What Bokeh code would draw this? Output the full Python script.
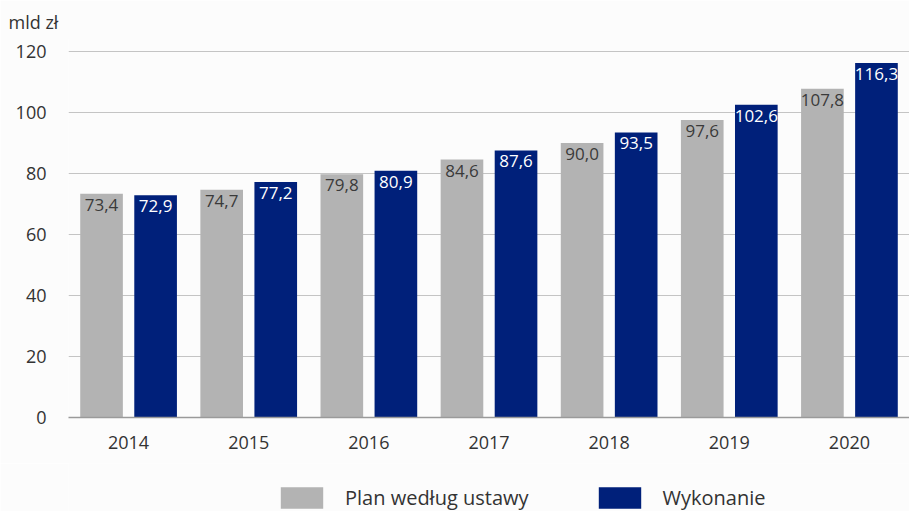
from bokeh.plotting import figure
from bokeh.layouts import column
from bokeh.models import ColumnDataSource, FactorRange, Range1d, Legend, LegendItem, FixedTicker
from bokeh.transform import dodge
from bokeh.core.properties import value
from bokeh.embed import file_html
from bokeh.resources import INLINE

years = ["2014", "2015", "2016", "2017", "2018", "2019", "2020"]
plan = [73.4, 74.7, 79.8, 84.6, 90.0, 97.6, 107.8]
wykonanie = [72.9, 77.2, 80.9, 87.6, 93.5, 102.6, 116.3]
y_ticks = [0, 20, 40, 60, 80, 100, 120]
series_names = ["Plan według ustawy", "Wykonanie"]
unit_label = "mld zł"

def fmt(v):
    return f"{v:.1f}".replace(".", ",")

src = ColumnDataSource(dict(
    years=years, plan=plan, wyk=wykonanie,
    plan_lbl=[fmt(v) for v in plan], wyk_lbl=[fmt(v) for v in wykonanie],
))

FONT = "Open Sans"
GRAY = "#b3b3b3"
NAVY = "#00207a"
BG = "#fcfcfc"

p = figure(width=909, height=463, x_range=FactorRange(*years, range_padding=0.0),
           y_range=Range1d(0, 124.3), output_backend="svg", toolbar_location=None,
           background_fill_color=BG, border_fill_color=BG,
           min_border_left=68, min_border_right=0, min_border_top=38, min_border_bottom=46)
p.outline_line_color = None

p.title.text = unit_label
p.title.text_font = FONT
p.title.text_font_size = "18px"
p.title.text_font_style = "normal"
p.title.text_color = "#333333"
p.title.align = "left"
p.title.offset = -60

p.vbar(x=dodge("years", -0.225, range=p.x_range), top="plan", width=0.355,
       source=src, fill_color=GRAY, line_color=None)
p.vbar(x=dodge("years", 0.225, range=p.x_range), top="wyk", width=0.355,
       source=src, fill_color=NAVY, line_color=None)

p.text(x=dodge("years", -0.225, range=p.x_range), y="plan", text="plan_lbl", source=src,
       text_font=value(FONT), text_font_size="17px", text_color="#3a3a3a",
       text_align="center", text_baseline="top", y_offset=5)
p.text(x=dodge("years", 0.225, range=p.x_range), y="wyk", text="wyk_lbl", source=src,
       text_font=value(FONT), text_font_size="17px", text_color="white",
       text_align="center", text_baseline="top", y_offset=5)

p.yaxis.ticker = FixedTicker(ticks=y_ticks)
p.yaxis.axis_line_color = None
p.yaxis.major_tick_line_color = None
p.yaxis.minor_tick_line_color = None
p.yaxis.major_label_standoff = 16
p.yaxis.major_label_text_font = FONT
p.yaxis.major_label_text_font_size = "18px"
p.yaxis.major_label_text_color = "#333333"

p.xaxis.axis_line_color = "#9a9a9a"
p.xaxis.axis_line_width = 1.5
p.xaxis.major_tick_line_color = None
p.xaxis.minor_tick_line_color = None
p.xaxis.major_label_standoff = 12
p.xaxis.major_label_text_font = FONT
p.xaxis.major_label_text_font_size = "18px"
p.xaxis.major_label_text_color = "#333333"

p.xgrid.grid_line_color = None
p.ygrid.grid_line_color = "#c4c4c4"
p.ygrid.grid_line_width = 1

# legend strip
lg = figure(width=909, height=48, x_range=Range1d(0, 1), y_range=Range1d(0, 1),
            x_axis_type=None, y_axis_type=None,
            output_backend="svg", toolbar_location=None,
            background_fill_color=BG, border_fill_color=BG,
            min_border_left=0, min_border_right=0, min_border_top=0, min_border_bottom=0)
lg.outline_line_color = None
lg.grid.grid_line_color = None
d1 = lg.vbar(x=[5], top=[1], width=0.1, fill_color=GRAY, line_color=None)
d2 = lg.vbar(x=[5], top=[1], width=0.1, fill_color=NAVY, line_color=None)

legend = Legend(items=[LegendItem(label=series_names[0], renderers=[d1]),
                       LegendItem(label=series_names[1], renderers=[d2])],
                orientation="horizontal", location=(207, 0),
                glyph_width=53, glyph_height=27, label_standoff=17, spacing=64,
                padding=0, margin=0, border_line_color=None,
                background_fill_alpha=0,
                label_text_font=FONT, label_text_font_size="20px", label_text_color="#333333")
lg.add_layout(legend, "center")

layout = column(p, lg, spacing=0)
open("out.html", "w").write(file_html(layout, INLINE))
